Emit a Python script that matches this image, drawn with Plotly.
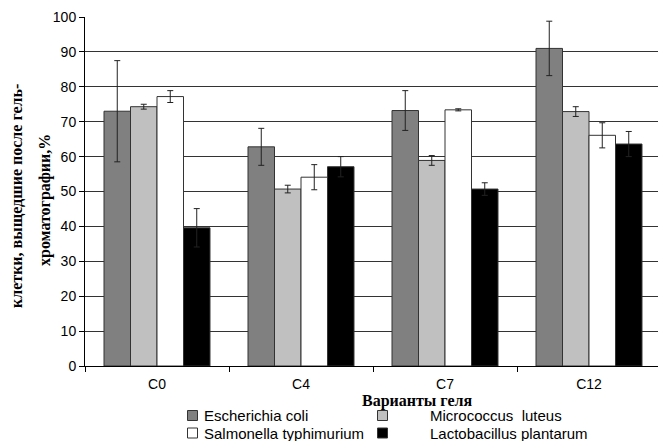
import plotly.graph_objects as go

# Gel variants and bacterial strains
categories = ["C0", "C4", "C7", "C12"]
strains = ["Escherichia coli", "Micrococcus\u00a0\u00a0luteus",
           "Salmonella typhimurium", "Lactobacillus plantarum"]

# Share of cells passed through gel chromatography, % (mean and error)
ecoli = [73.0, 62.8, 73.2, 91.0]
ecoli_err = [14.5, 5.3, 5.7, 7.8]
mluteus = [74.3, 50.7, 58.9, 72.9]
mluteus_err = [0.7, 1.1, 1.4, 1.4]
styph = [77.2, 54.1, 73.4, 66.1]
styph_err = [1.7, 3.6, 0.3, 3.6]
lplant = [39.6, 57.1, 50.7, 63.6]
lplant_err = [5.5, 2.9, 1.8, 3.6]

y_ticks = list(range(0, 101, 10))

colors = ["#808080", "#c0c0c0", "#ffffff", "#000000"]
values = [ecoli, mluteus, styph, lplant]
errors = [ecoli_err, mluteus_err, styph_err, lplant_err]

W, H = 658, 441
ML, MR, MT, MB = 85, 0, 17, 75
PW, PH = W - ML - MR, H - MT - MB


def px(x):
    return (x - ML) / PW


def py(y):
    return (H - MB - y) / PH


fig = go.Figure()
for name, vals, errs, col in zip(strains, values, errors, colors):
    fig.add_trace(go.Bar(
        x=categories, y=vals, name=name,
        marker=dict(color=col, line=dict(color="#333333", width=1)),
        error_y=dict(type="data", array=errs, visible=True,
                     color="#222222", thickness=1, width=3),
        showlegend=False,
    ))

fig.update_layout(
    width=W, height=H,
    margin=dict(l=ML, r=MR, t=MT, b=MB),
    paper_bgcolor="white", plot_bgcolor="white",
    barmode="group", bargap=0.264, bargroupgap=0,
    font=dict(family="Liberation Sans, Arial, sans-serif", size=14, color="black"),
    xaxis=dict(
        range=[-0.5, 3.5 - 3 / 144],
        showline=True, linecolor="black", linewidth=1,
        ticks="outside", tickson="boundaries", ticklen=5, tickcolor="black",
        ticklabelstandoff=5,
        showgrid=False,
    ),
    yaxis=dict(
        range=[0, 100], tickvals=y_ticks,
        showline=True, linecolor="black", linewidth=1,
        ticks="outside", ticklen=5, tickcolor="black",
        showgrid=True, gridcolor="#333333", gridwidth=1,
        zeroline=False,
    ),
)

serif = dict(family="Liberation Serif, Times New Roman, serif", size=16, color="black")
title_font = dict(serif, weight="bold")

# Y axis title in two rotated lines
fig.add_annotation(text="клетки, выщедшие после гель-", textangle=-90,
                   xref="paper", yref="paper", x=px(16), y=py(196),
                   xanchor="center", yanchor="middle", showarrow=False,
                   font=title_font)
fig.add_annotation(text="хроматографии,%", textangle=-90,
                   xref="paper", yref="paper", x=px(45), y=py(200),
                   xanchor="center", yanchor="middle", showarrow=False,
                   font=title_font)

# X axis title
fig.add_annotation(text="Варианты геля", xref="paper", yref="paper",
                   x=px(417), y=py(401), xanchor="center", yanchor="middle",
                   showarrow=False, font=title_font)

# Legend laid out in two columns below the axis
legend_pos = [(192.5, 202, 415.5), (382.5, 428, 415.5),
              (192.5, 202, 433), (382.5, 428, 433)]
for name, col, (sx, tx, ry) in zip(strains, colors, legend_pos):
    fig.add_shape(type="rect", xref="paper", yref="paper",
                  x0=px(sx - 5), x1=px(sx + 5), y0=py(ry + 5), y1=py(ry - 5),
                  fillcolor=col, line=dict(color="#333333", width=1))
    fig.add_annotation(text=name, xref="paper", yref="paper",
                       x=px(tx), y=py(ry), xanchor="left", yanchor="middle",
                       showarrow=False,
                       font=dict(family="Liberation Sans, Arial, sans-serif",
                                 size=15, color="black"))

fig.write_html("out.html")
